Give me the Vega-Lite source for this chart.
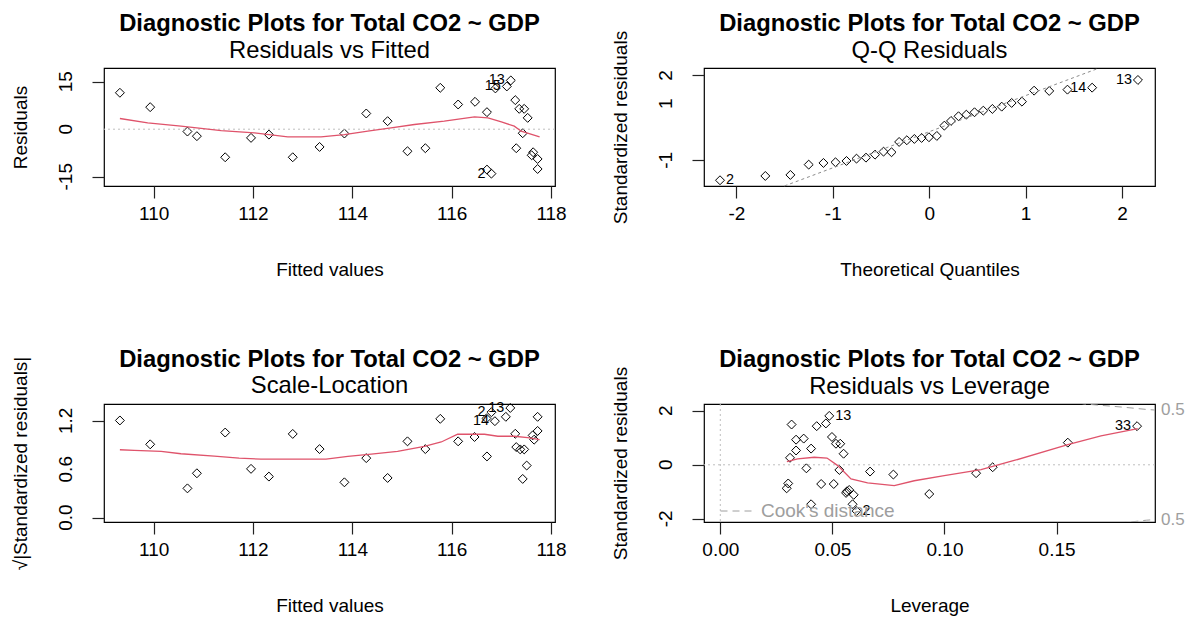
{
  "$schema": "https://vega.github.io/schema/vega-lite/v6.json",
  "background": "white",
  "padding": {"left": 10, "top": 11, "right": 0, "bottom": 0},
  "columns": 2,
  "spacing": {"row": 218, "column": 149},
  "bounds": "flush",
  "resolve": {"scale": {"x": "independent", "y": "independent"}, "legend": {"strokeDash": "independent"}},
  "datasets": {
    "rvf": [
      {"fitted":109.32,"resid":11.5},{"fitted":109.93,"resid":6.96},{"fitted":110.68,"resid":-0.74},{"fitted":110.87,"resid":-2.2},
      {"fitted":111.44,"resid":-8.86},{"fitted":111.96,"resid":-2.74},{"fitted":112.32,"resid":-1.7},{"fitted":112.80,"resid":-8.86},
      {"fitted":113.34,"resid":-5.6},{"fitted":113.84,"resid":-1.37},{"fitted":114.28,"resid":4.96},{"fitted":114.71,"resid":2.53},
      {"fitted":115.11,"resid":-6.96},{"fitted":115.47,"resid":-6.0},{"fitted":115.77,"resid":13.07},{"fitted":116.13,"resid":7.8},
      {"fitted":116.47,"resid":8.65},{"fitted":116.71,"resid":5.38},{"fitted":116.71,"resid":-12.76},{"fitted":116.80,"resid":-14.03},
      {"fitted":116.88,"resid":12.87},{"fitted":117.11,"resid":13.5},{"fitted":117.19,"resid":15.4},{"fitted":117.28,"resid":9.18},
      {"fitted":117.36,"resid":6.43},{"fitted":117.46,"resid":6.43},{"fitted":117.53,"resid":3.58},{"fitted":117.43,"resid":-1.27},
      {"fitted":117.30,"resid":-6.0},{"fitted":117.64,"resid":-7.28},{"fitted":117.61,"resid":-8.23},{"fitted":117.73,"resid":-9.4},
      {"fitted":117.73,"resid":-12.56}
    ],
    "rvf_smooth": [
      {"fitted":109.32,"resid":3.38},{"fitted":109.88,"resid":2.0},{"fitted":110.55,"resid":0.95},{"fitted":111.36,"resid":-0.42},
      {"fitted":112.03,"resid":-1.16},{"fitted":112.70,"resid":-2.43},{"fitted":113.37,"resid":-2.43},{"fitted":113.84,"resid":-1.69},
      {"fitted":114.31,"resid":-0.63},{"fitted":114.78,"resid":0.42},{"fitted":115.25,"resid":1.48},{"fitted":115.85,"resid":2.53},
      {"fitted":116.46,"resid":3.9},{"fitted":116.73,"resid":3.59},{"fitted":117.0,"resid":2.32},{"fitted":117.26,"resid":0.95},
      {"fitted":117.40,"resid":-0.63},{"fitted":117.77,"resid":-2.43}
    ],
    "rvf_lab": [
      {"fitted":117.19,"resid":15.4,"id":"13"},{"fitted":117.11,"resid":13.5,"id":"15"},{"fitted":116.80,"resid":-14.03,"id":"2"}
    ],
    "rvf_ytick": [{"resid":-15,"t":"-15"},{"resid":0,"t":"0"},{"resid":15,"t":"15"}],
    "zero": [{"ref":0}],
    "qq": [
      {"theo":-2.17,"std":-1.707},{"theo":-1.70,"std":-1.555},{"theo":-1.44,"std":-1.519},{"theo":-1.25,"std":-1.155},
      {"theo":-1.097,"std":-1.095},{"theo":-0.972,"std":-1.071},{"theo":-0.858,"std":-1.025},{"theo":-0.754,"std":-0.943},
      {"theo":-0.656,"std":-0.908},{"theo":-0.562,"std":-0.802},{"theo":-0.474,"std":-0.696},{"theo":-0.391,"std":-0.717},
      {"theo":-0.312,"std":-0.353},{"theo":-0.232,"std":-0.293},{"theo":-0.154,"std":-0.247},{"theo":-0.079,"std":-0.212},
      {"theo":-0.003,"std":-0.187},{"theo":0.079,"std":-0.141},{"theo":0.157,"std":0.223},{"theo":0.226,"std":0.389},
      {"theo":0.304,"std":0.555},{"theo":0.385,"std":0.611},{"theo":0.470,"std":0.696},{"theo":0.561,"std":0.753},
      {"theo":0.655,"std":0.813},{"theo":0.752,"std":0.894},{"theo":0.855,"std":1.025},{"theo":0.962,"std":1.071},
      {"theo":1.088,"std":1.459},{"theo":1.245,"std":1.449},{"theo":1.434,"std":1.495},{"theo":1.690,"std":1.565},
      {"theo":2.165,"std":1.837}
    ],
    "qq_line": [{"theo":-1.501,"std":-1.908},{"theo":1.757,"std":2.251}],
    "qq_lab_left": [{"theo":1.690,"std":1.565,"id":"14"},{"theo":2.165,"std":1.837,"id":"13"}],
    "qq_lab_right": [{"theo":-2.17,"std":-1.707,"id":"2"}],
    "qq_ytick": [{"std":-1,"t":"-1"},{"std":1,"t":"1"},{"std":2,"t":"2"}],
    "sl": [
      {"fitted":109.32,"root":1.205},{"fitted":109.93,"root":0.909},{"fitted":110.68,"root":0.363},{"fitted":110.87,"root":0.55},
      {"fitted":111.44,"root":1.055},{"fitted":111.96,"root":0.605},{"fitted":112.32,"root":0.509},{"fitted":112.80,"root":1.038},
      {"fitted":113.34,"root":0.85},{"fitted":113.84,"root":0.438},{"fitted":114.28,"root":0.738},{"fitted":114.71,"root":0.492},
      {"fitted":115.11,"root":0.946},{"fitted":115.47,"root":0.85},{"fitted":115.77,"root":1.225},{"fitted":116.13,"root":0.946},
      {"fitted":116.46,"root":1.0},{"fitted":116.71,"root":0.759},{"fitted":116.70,"root":1.23},{"fitted":116.80,"root":1.307},
      {"fitted":116.87,"root":1.196},{"fitted":117.09,"root":1.25},{"fitted":117.18,"root":1.36},{"fitted":117.28,"root":1.04},
      {"fitted":117.38,"root":0.846},{"fitted":117.46,"root":0.846},{"fitted":117.51,"root":0.646},{"fitted":117.43,"root":0.48},
      {"fitted":117.30,"root":0.875},{"fitted":117.63,"root":1.02},{"fitted":117.66,"root":0.967},{"fitted":117.73,"root":1.075},
      {"fitted":117.73,"root":1.25}
    ],
    "sl_smooth": [
      {"fitted":109.32,"root":0.842},{"fitted":109.61,"root":0.834},{"fitted":110.15,"root":0.821},{"fitted":110.55,"root":0.792},
      {"fitted":111.22,"root":0.763},{"fitted":111.72,"root":0.738},{"fitted":112.16,"root":0.725},{"fitted":112.83,"root":0.725},
      {"fitted":113.47,"root":0.725},{"fitted":113.91,"root":0.759},{"fitted":114.38,"root":0.788},{"fitted":114.91,"root":0.821},
      {"fitted":115.45,"root":0.884},{"fitted":115.79,"root":0.938},{"fitted":116.12,"root":1.034},{"fitted":116.66,"root":1.034},
      {"fitted":116.93,"root":1.009},{"fitted":117.26,"root":1.009},{"fitted":117.53,"root":0.992},{"fitted":117.77,"root":0.967}
    ],
    "sl_lab": [
      {"fitted":117.18,"root":1.36,"id":"13"},{"fitted":116.80,"root":1.307,"id":"2"},{"fitted":116.87,"root":1.196,"id":"14"}
    ],
    "sl_ytick": [{"root":0,"t":"0.0"},{"root":0.6,"t":"0.6"},{"root":1.2,"t":"1.2"}],
    "rvl": [
      {"lev":0.0318,"std":1.49},{"lev":0.0338,"std":0.93},{"lev":0.0372,"std":0.97},{"lev":0.0338,"std":0.53},
      {"lev":0.0311,"std":0.26},{"lev":0.0405,"std":0.60},{"lev":0.0430,"std":1.43},{"lev":0.0471,"std":1.53},
      {"lev":0.0486,"std":1.81},{"lev":0.0498,"std":1.03},{"lev":0.0516,"std":0.78},{"lev":0.0535,"std":0.78},
      {"lev":0.0550,"std":0.41},{"lev":0.0384,"std":-0.13},{"lev":0.0531,"std":-0.19},{"lev":0.0668,"std":-0.25},
      {"lev":0.0772,"std":-0.36},{"lev":0.0303,"std":-0.69},{"lev":0.0296,"std":-0.87},{"lev":0.0450,"std":-0.71},
      {"lev":0.0506,"std":-0.71},{"lev":0.0561,"std":-1.04},{"lev":0.0575,"std":-0.93},{"lev":0.0595,"std":-1.11},
      {"lev":0.0405,"std":-1.46},{"lev":0.0590,"std":-1.46},{"lev":0.0608,"std":-1.71},{"lev":0.0565,"std":-0.98},
      {"lev":0.0932,"std":-1.08},{"lev":0.1141,"std":-0.31},{"lev":0.1215,"std":-0.09},{"lev":0.155,"std":0.82},
      {"lev":0.1859,"std":1.43}
    ],
    "rvl_smooth": [
      {"lev":0.0297,"std":0.12},{"lev":0.0345,"std":0.22},{"lev":0.0419,"std":0.28},{"lev":0.0476,"std":0.25},
      {"lev":0.0524,"std":-0.03},{"lev":0.0583,"std":-0.52},{"lev":0.0657,"std":-0.67},{"lev":0.0776,"std":-0.77},
      {"lev":0.0865,"std":-0.59},{"lev":0.0999,"std":-0.40},{"lev":0.1163,"std":-0.18},{"lev":0.1311,"std":0.16},
      {"lev":0.155,"std":0.75},{"lev":0.1698,"std":1.07},{"lev":0.1862,"std":1.34}
    ],
    "cook": [
      {"lev":0.160,"std":2.29,"branch":"upper","kind":"Cook's distance"},
      {"lev":0.1624,"std":2.25,"branch":"upper","kind":"Cook's distance"},
      {"lev":0.170,"std":2.20,"branch":"upper","kind":"Cook's distance"},
      {"lev":0.180,"std":2.13,"branch":"upper","kind":"Cook's distance"},
      {"lev":0.190,"std":2.05,"branch":"upper","kind":"Cook's distance"},
      {"lev":0.1939,"std":2.026,"branch":"upper","kind":"Cook's distance"},
      {"lev":0.178,"std":-2.15,"branch":"lower","kind":"Cook's distance"},
      {"lev":0.183,"std":-2.116,"branch":"lower","kind":"Cook's distance"},
      {"lev":0.190,"std":-2.05,"branch":"lower","kind":"Cook's distance"},
      {"lev":0.1939,"std":-2.026,"branch":"lower","kind":"Cook's distance"}
    ],
    "cook_lab": [{"lev":0.1939,"std":2.026,"txt":"0.5"},{"lev":0.1939,"std":-2.026,"txt":"0.5"}],
    "rvl_lab_right": [{"lev":0.0486,"std":1.81,"id":"13"},{"lev":0.0608,"std":-1.71,"id":"2"}],
    "rvl_lab_left": [{"lev":0.1859,"std":1.43,"id":"33"}],
    "rvl_ytick": [{"std":-2,"t":"-2"},{"std":0,"t":"0"},{"std":2,"t":"2"}]
  },
  "concat": [
    {
      "width": 451, "height": 118,
      "title": {"text": "Diagnostic Plots for Total CO2 ~ GDP", "subtitle": "Residuals vs Fitted"},
      "layer": [
        {
          "data": {"name": "rvf"},
          "mark": {"type": "point", "shape": "diamond", "size": 80, "filled": false, "color": "black", "strokeWidth": 1, "opacity": 1},
          "encoding": {
            "x": {"field": "fitted", "type": "quantitative", "scale": {"domain": [109.0, 118.08], "nice": false, "zero": false},
                  "axis": {"title": "Fitted values", "values": [110, 112, 114, 116, 118]}},
            "y": {"field": "resid", "type": "quantitative", "scale": {"domain": [-17.93, 19.32], "nice": false, "zero": false},
                  "axis": {"title": "Residuals", "values": [-15, -10, -5, 0, 5, 10, 15], "labels": false}}
          }
        },
        {
          "data": {"name": "rvf_ytick"},
          "mark": {"type": "text", "angle": 270, "align": "center", "baseline": "bottom", "dy": -28, "fontSize": 19, "color": "black"},
          "encoding": {
            "x": {"datum": 109.0, "type": "quantitative", "scale": {"domain": [109.0, 118.08], "nice": false, "zero": false}},
            "y": {"field": "resid", "type": "quantitative", "scale": {"domain": [-17.93, 19.32], "nice": false, "zero": false}},
            "text": {"field": "t"}
          }
        },
        {
          "data": {"name": "zero"},
          "mark": {"type": "rule", "color": "#bebebe", "strokeDash": [2, 3], "strokeWidth": 1},
          "encoding": {"y": {"field": "ref", "type": "quantitative", "scale": {"domain": [-17.93, 19.32], "nice": false, "zero": false}}}
        },
        {
          "data": {"name": "rvf_smooth"},
          "mark": {"type": "line", "color": "#DF536B", "strokeWidth": 1.3},
          "encoding": {
            "x": {"field": "fitted", "type": "quantitative", "scale": {"domain": [109.0, 118.08], "nice": false, "zero": false}},
            "y": {"field": "resid", "type": "quantitative", "scale": {"domain": [-17.93, 19.32], "nice": false, "zero": false}}
          }
        },
        {
          "data": {"name": "rvf_lab"},
          "mark": {"type": "text", "align": "right", "baseline": "middle", "dx": -6, "fontSize": 14.4, "color": "black"},
          "encoding": {
            "x": {"field": "fitted", "type": "quantitative", "scale": {"domain": [109.0, 118.08], "nice": false, "zero": false}},
            "y": {"field": "resid", "type": "quantitative", "scale": {"domain": [-17.93, 19.32], "nice": false, "zero": false}},
            "text": {"field": "id"}
          }
        }
      ]
    },
    {
      "width": 451, "height": 118,
      "title": {"text": "Diagnostic Plots for Total CO2 ~ GDP", "subtitle": "Q-Q Residuals", "dy": 37.5},
      "layer": [
        {
          "data": {"name": "qq"},
          "mark": {"type": "point", "shape": "diamond", "size": 80, "filled": false, "color": "black", "strokeWidth": 1, "opacity": 1},
          "encoding": {
            "x": {"field": "theo", "type": "quantitative", "scale": {"domain": [-2.336, 2.342], "nice": false, "zero": false},
                  "axis": {"title": "Theoretical Quantiles", "values": [-2, -1, 0, 1, 2],
                           "labelExpr": "datum.value == -2 ? '-2' : datum.value == -1 ? '-1' : datum.value == 0 ? '0' : datum.value == 1 ? '1' : '2'"}},
            "y": {"field": "std", "type": "quantitative", "scale": {"domain": [-1.91, 2.26], "nice": false, "zero": false},
                  "axis": {"title": "Standardized residuals", "values": [-1, 0, 1, 2], "labels": false}}
          }
        },
        {
          "data": {"name": "qq_ytick"},
          "mark": {"type": "text", "angle": 270, "align": "center", "baseline": "bottom", "dy": -28, "fontSize": 19, "color": "black"},
          "encoding": {
            "x": {"datum": -2.336, "type": "quantitative", "scale": {"domain": [-2.336, 2.342], "nice": false, "zero": false}},
            "y": {"field": "std", "type": "quantitative", "scale": {"domain": [-1.91, 2.26], "nice": false, "zero": false}},
            "text": {"field": "t"}
          }
        },
        {
          "data": {"name": "qq_line"},
          "mark": {"type": "line", "color": "#8c8c8c", "strokeDash": [3, 3], "strokeWidth": 1},
          "encoding": {
            "x": {"field": "theo", "type": "quantitative", "scale": {"domain": [-2.336, 2.342], "nice": false, "zero": false}},
            "y": {"field": "std", "type": "quantitative", "scale": {"domain": [-1.91, 2.26], "nice": false, "zero": false}}
          }
        },
        {
          "data": {"name": "qq_lab_left"},
          "mark": {"type": "text", "align": "right", "baseline": "middle", "dx": -6, "fontSize": 14.4, "color": "black"},
          "encoding": {
            "x": {"field": "theo", "type": "quantitative", "scale": {"domain": [-2.336, 2.342], "nice": false, "zero": false}},
            "y": {"field": "std", "type": "quantitative", "scale": {"domain": [-1.91, 2.26], "nice": false, "zero": false}},
            "text": {"field": "id"}
          }
        },
        {
          "data": {"name": "qq_lab_right"},
          "mark": {"type": "text", "align": "left", "baseline": "middle", "dx": 6, "fontSize": 14.4, "color": "black"},
          "encoding": {
            "x": {"field": "theo", "type": "quantitative", "scale": {"domain": [-2.336, 2.342], "nice": false, "zero": false}},
            "y": {"field": "std", "type": "quantitative", "scale": {"domain": [-1.91, 2.26], "nice": false, "zero": false}},
            "text": {"field": "id"}
          }
        }
      ]
    },
    {
      "width": 451, "height": 118,
      "title": {"text": "Diagnostic Plots for Total CO2 ~ GDP", "subtitle": "Scale-Location", "dy": 47},
      "layer": [
        {
          "data": {"name": "sl"},
          "mark": {"type": "point", "shape": "diamond", "size": 80, "filled": false, "color": "black", "strokeWidth": 1, "opacity": 1},
          "encoding": {
            "x": {"field": "fitted", "type": "quantitative", "scale": {"domain": [109.0, 118.08], "nice": false, "zero": false},
                  "axis": {"title": "Fitted values", "values": [110, 112, 114, 116, 118]}},
            "y": {"field": "root", "type": "quantitative", "scale": {"domain": [-0.054, 1.409], "nice": false, "zero": false},
                  "axis": {"title": "√|Standardized residuals|", "values": [0, 0.2, 0.4, 0.6, 0.8, 1.0, 1.2], "labels": false}}
          }
        },
        {
          "data": {"name": "sl_ytick"},
          "mark": {"type": "text", "angle": 270, "align": "center", "baseline": "bottom", "dy": -28, "fontSize": 19, "color": "black"},
          "encoding": {
            "x": {"datum": 109.0, "type": "quantitative", "scale": {"domain": [109.0, 118.08], "nice": false, "zero": false}},
            "y": {"field": "root", "type": "quantitative", "scale": {"domain": [-0.054, 1.409], "nice": false, "zero": false}},
            "text": {"field": "t"}
          }
        },
        {
          "data": {"name": "sl_smooth"},
          "mark": {"type": "line", "color": "#DF536B", "strokeWidth": 1.3},
          "encoding": {
            "x": {"field": "fitted", "type": "quantitative", "scale": {"domain": [109.0, 118.08], "nice": false, "zero": false}},
            "y": {"field": "root", "type": "quantitative", "scale": {"domain": [-0.054, 1.409], "nice": false, "zero": false}}
          }
        },
        {
          "data": {"name": "sl_lab"},
          "mark": {"type": "text", "align": "right", "baseline": "middle", "dx": -6, "fontSize": 14.4, "color": "black"},
          "encoding": {
            "x": {"field": "fitted", "type": "quantitative", "scale": {"domain": [109.0, 118.08], "nice": false, "zero": false}},
            "y": {"field": "root", "type": "quantitative", "scale": {"domain": [-0.054, 1.409], "nice": false, "zero": false}},
            "text": {"field": "id"}
          }
        }
      ]
    },
    {
      "width": 451, "height": 118,
      "title": {"text": "Diagnostic Plots for Total CO2 ~ GDP", "subtitle": "Residuals vs Leverage", "dy": 37.5},
      "layer": [
        {
          "data": {"name": "rvl"},
          "mark": {"type": "point", "shape": "diamond", "size": 80, "filled": false, "color": "black", "strokeWidth": 1, "opacity": 1},
          "encoding": {
            "x": {"field": "lev", "type": "quantitative", "scale": {"domain": [-0.00727, 0.1939], "nice": false, "zero": false},
                  "axis": {"title": "Leverage", "values": [0, 0.05, 0.1, 0.15], "labelExpr": "format(datum.value, '.2f')"}},
            "y": {"field": "std", "type": "quantitative", "scale": {"domain": [-2.116, 2.25], "nice": false, "zero": false},
                  "axis": {"title": "Standardized residuals", "values": [-2, -1, 0, 1, 2], "labels": false}}
          }
        },
        {
          "data": {"name": "rvl_ytick"},
          "mark": {"type": "text", "angle": 270, "align": "center", "baseline": "bottom", "dy": -28, "fontSize": 19, "color": "black"},
          "encoding": {
            "x": {"datum": -0.00727, "type": "quantitative", "scale": {"domain": [-0.00727, 0.1939], "nice": false, "zero": false}},
            "y": {"field": "std", "type": "quantitative", "scale": {"domain": [-2.116, 2.25], "nice": false, "zero": false}},
            "text": {"field": "t"}
          }
        },
        {
          "data": {"name": "zero"},
          "mark": {"type": "rule", "color": "#bebebe", "strokeDash": [2, 3], "strokeWidth": 1},
          "encoding": {"y": {"field": "ref", "type": "quantitative", "scale": {"domain": [-2.116, 2.25], "nice": false, "zero": false}}}
        },
        {
          "data": {"name": "zero"},
          "mark": {"type": "rule", "color": "#bebebe", "strokeDash": [2, 3], "strokeWidth": 1},
          "encoding": {"x": {"field": "ref", "type": "quantitative", "scale": {"domain": [-0.00727, 0.1939], "nice": false, "zero": false}}}
        },
        {
          "data": {"name": "rvl_smooth"},
          "mark": {"type": "line", "color": "#DF536B", "strokeWidth": 1.3},
          "encoding": {
            "x": {"field": "lev", "type": "quantitative", "scale": {"domain": [-0.00727, 0.1939], "nice": false, "zero": false}},
            "y": {"field": "std", "type": "quantitative", "scale": {"domain": [-2.116, 2.25], "nice": false, "zero": false}}
          }
        },
        {
          "data": {"name": "cook"},
          "mark": {"type": "line", "color": "#9e9e9e", "strokeWidth": 1, "clip": true},
          "encoding": {
            "x": {"field": "lev", "type": "quantitative", "scale": {"domain": [-0.00727, 0.1939], "nice": false, "zero": false}},
            "y": {"field": "std", "type": "quantitative", "scale": {"domain": [-2.116, 2.25], "nice": false, "zero": false}},
            "detail": {"field": "branch"},
            "strokeDash": {"field": "kind", "type": "nominal", "scale": {"range": [[7, 5]]},
                           "legend": {"title": null, "orient": "none", "legendX": 16, "legendY": 90, "symbolType": "stroke", "symbolSize": 1089,
                                      "symbolStrokeColor": "#9e9e9e", "symbolStrokeWidth": 1, "labelFontSize": 19, "labelColor": "#9e9e9e",
                                      "labelOffset": 7, "padding": 0}}
          }
        },
        {
          "data": {"name": "cook_lab"},
          "mark": {"type": "text", "align": "left", "baseline": "middle", "dx": 6, "fontSize": 17, "color": "#9e9e9e"},
          "encoding": {
            "x": {"field": "lev", "type": "quantitative", "scale": {"domain": [-0.00727, 0.1939], "nice": false, "zero": false}},
            "y": {"field": "std", "type": "quantitative", "scale": {"domain": [-2.116, 2.25], "nice": false, "zero": false}},
            "text": {"field": "txt"}
          }
        },
        {
          "data": {"name": "rvl_lab_right"},
          "mark": {"type": "text", "align": "left", "baseline": "middle", "dx": 6, "fontSize": 14.4, "color": "black"},
          "encoding": {
            "x": {"field": "lev", "type": "quantitative", "scale": {"domain": [-0.00727, 0.1939], "nice": false, "zero": false}},
            "y": {"field": "std", "type": "quantitative", "scale": {"domain": [-2.116, 2.25], "nice": false, "zero": false}},
            "text": {"field": "id"}
          }
        },
        {
          "data": {"name": "rvl_lab_left"},
          "mark": {"type": "text", "align": "right", "baseline": "middle", "dx": -6, "fontSize": 14.4, "color": "black"},
          "encoding": {
            "x": {"field": "lev", "type": "quantitative", "scale": {"domain": [-0.00727, 0.1939], "nice": false, "zero": false}},
            "y": {"field": "std", "type": "quantitative", "scale": {"domain": [-2.116, 2.25], "nice": false, "zero": false}},
            "text": {"field": "id"}
          }
        }
      ]
    }
  ],
  "config": {
    "font": "Liberation Sans",
    "view": {"stroke": "black", "strokeWidth": 1.2},
    "axis": {"domain": false, "grid": false, "tickColor": "#222222", "tickSize": 12, "tickWidth": 1.2,
             "labelFontSize": 19, "labelColor": "black", "titleFontSize": 19, "titleFontWeight": "normal", "titleColor": "black",
             "labelFlush": false, "labelOverlap": false},
    "axisX": {"labelPadding": 6, "titleBaseline": "top", "titleY": 74.6},
    "axisY": {"titleAngle": -90, "titleBaseline": "bottom", "titleX": -74},
    "title": {"fontSize": 23.8, "fontWeight": "bold", "color": "black", "subtitleFontSize": 23.8, "subtitleColor": "black",
              "subtitleFontWeight": "normal", "subtitleFont": "Liberation Sans", "anchor": "middle", "frame": "group", "offset": 5, "subtitlePadding": 3}
  }
}
